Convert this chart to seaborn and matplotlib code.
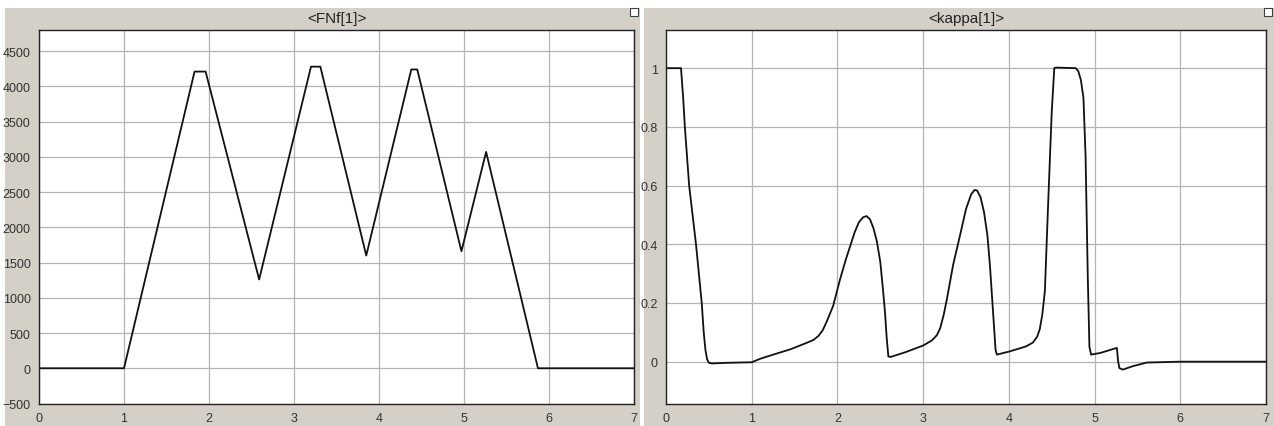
import numpy as np
import pandas as pd
import matplotlib.pyplot as plt
import matplotlib.patches as mpatches
import seaborn as sns

sns.set_style("whitegrid")
plt.rcParams["font.family"] = ["Liberation Sans", "DejaVu Sans"]

# ---------------------------------------------------------------------
# Data
# ---------------------------------------------------------------------
fnf_t = [0, 1, 1.83, 1.96, 2.59, 3.2, 3.31, 3.85, 4.38, 4.45, 4.97, 5.26, 5.87, 7]
fnf_v = [0, 0, 4210, 4210, 1260, 4280, 4280, 1600, 4240, 4240, 1660, 3070, 0, 0]

kappa_t = [0, 0.175, 0.2, 0.22, 0.27, 0.35, 0.417, 0.44, 0.46, 0.48, 0.5, 0.54, 0.7, 1.0,
           1.1, 1.25, 1.45, 1.64, 1.72, 1.78, 1.83, 1.88, 1.95, 2.03, 2.1, 2.15, 2.2, 2.25,
           2.30, 2.34, 2.38, 2.42, 2.46, 2.50, 2.53, 2.555, 2.575, 2.594, 2.62, 2.8, 3.0,
           3.1, 3.16, 3.2, 3.24, 3.275, 3.35, 3.43, 3.5, 3.56, 3.6, 3.63, 3.67, 3.71, 3.75,
           3.78, 3.82, 3.845, 3.86, 4.01, 4.2, 4.28, 4.33, 4.36, 4.39, 4.42, 4.46, 4.50,
           4.53, 4.55, 4.78, 4.81, 4.84, 4.87, 4.895, 4.92, 4.94, 4.96, 5.07, 5.26, 5.275,
           5.29, 5.33, 5.45, 5.61, 6.0, 7]
kappa_v = [1.0, 1.0, 0.9, 0.8, 0.6, 0.4, 0.2, 0.1, 0.04, 0.008, -0.004, -0.006, -0.004,
           -0.002, 0.01, 0.024, 0.042, 0.064, 0.074, 0.088, 0.108, 0.14, 0.19, 0.28, 0.35,
           0.395, 0.44, 0.475, 0.492, 0.496, 0.485, 0.455, 0.41, 0.34, 0.25, 0.168, 0.08,
           0.018, 0.016, 0.033, 0.055, 0.072, 0.09, 0.115, 0.16, 0.21, 0.33, 0.43, 0.52,
           0.57, 0.585, 0.583, 0.56, 0.51, 0.43, 0.325, 0.15, 0.04, 0.024, 0.035, 0.052,
           0.065, 0.085, 0.11, 0.16, 0.24, 0.55, 0.85, 1.0, 1.002, 1.0, 0.99, 0.96, 0.9,
           0.7, 0.3, 0.05, 0.024, 0.03, 0.047, 0.0, -0.022, -0.027, -0.015, -0.003, 0.0, 0.0]

fnf_ticks = list(range(-500, 5000, 500))
kappa_ticks = [0, 0.2, 0.4, 0.6, 0.8, 1]
x_ticks = list(range(0, 8))

GRAY = "#d4d0c8"
W, H = 1274, 427

fig = plt.figure(figsize=(W / 100, H / 100), dpi=100)
fig.patch.set_facecolor("white")

# background axes holding the gray scope window frames
bg = fig.add_axes([0, 0, 1, 1], zorder=-10)
bg.set_xlim(0, W)
bg.set_ylim(H, 0)
bg.axis("off")
for x0, x1 in [(5, 640), (644, 1274)]:
    bg.add_patch(mpatches.Rectangle((x0, 9), x1 - x0, H - 9, facecolor=GRAY, edgecolor="none"))
# little undock icons
for x0 in [630, 1264]:
    bg.add_patch(mpatches.Rectangle((x0, 9), 8, 8, facecolor="white",
                                    edgecolor="#404040", linewidth=0.8))

ax1 = fig.add_axes([39 / W, 22.5 / H, 595 / W, 373.5 / H])
ax2 = fig.add_axes([666 / W, 22.5 / H, 600 / W, 373.5 / H])

df1 = pd.DataFrame({"t": fnf_t, "v": fnf_v})
df2 = pd.DataFrame({"t": kappa_t, "v": kappa_v})

sns.lineplot(data=df1, x="t", y="v", ax=ax1, color="#111111", linewidth=1.3)
sns.lineplot(data=df2, x="t", y="v", ax=ax2, color="#111111", linewidth=1.3)

ax1.set_ylim(-500, 4800)
ax1.set_yticks(fnf_ticks)
ax2.set_ylim(-0.1425, 1.13)
ax2.set_yticks(kappa_ticks)
ax2.set_yticklabels(["0", "0.2", "0.4", "0.6", "0.8", "1"])

for ax, title in [(ax1, "<FNf[1]>"), (ax2, "<kappa[1]>")]:
    ax.set_xlim(0, 7)
    ax.set_xticks(x_ticks)
    ax.set_xlabel("")
    ax.set_ylabel("")
    ax.set_facecolor("white")
    ax.grid(True, color="#b4b4b4", linewidth=0.9)
    ax.tick_params(direction="in", length=4, width=0.8, colors="#222222",
                   labelsize=9, labelcolor="#333333", pad=6)
    for s in ax.spines.values():
        s.set_color("#222222")
        s.set_linewidth(1.0)
    pos = ax.get_position()
    fig.text((pos.x0 + pos.x1) / 2, 1 - 19 / H, title, ha="center", va="center",
             fontsize=11, color="#222222")

fig.savefig("out.png", dpi=100, facecolor=fig.get_facecolor())
